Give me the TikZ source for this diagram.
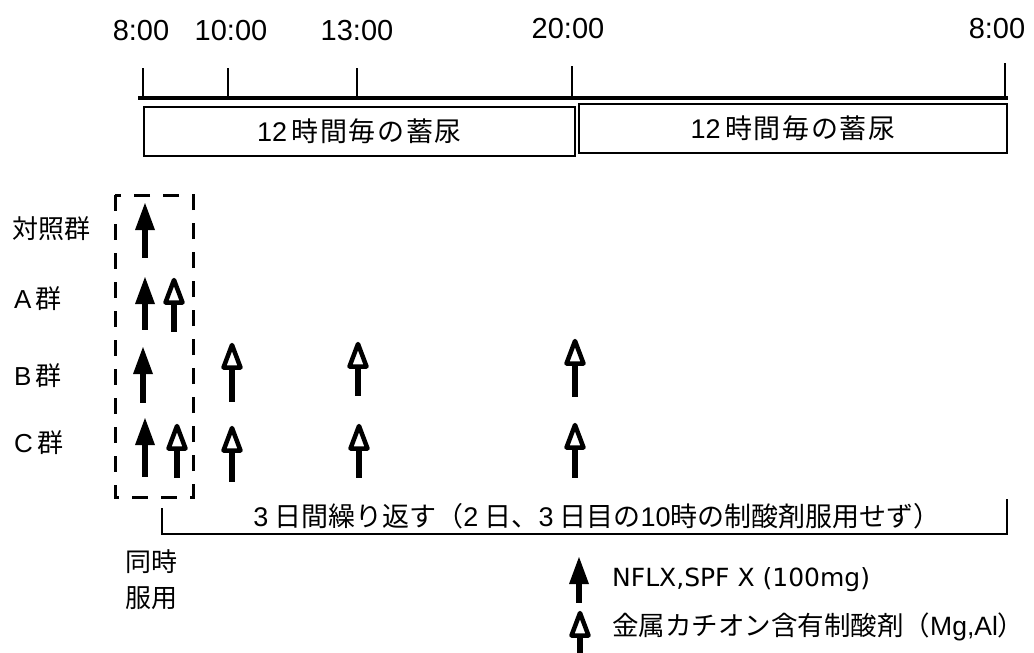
\documentclass[tikz,border=0pt]{standalone}
\usepackage{fontspec}
\setmainfont{Noto Sans CJK JP}
\newfontfamily\latfont{DejaVu Sans}
\newfontfamily\digfont{Liberation Sans}
\newfontfamily\jpspaced[LetterSpace=6]{Noto Sans CJK JP}
\newcommand\dg[1]{{\digfont #1}}
\newcommand\farr[3]{%
  \fill (#1,#2) -- (#1+10,#2+27) -- (#1-10,#2+27) -- cycle;
  \draw[line width=5.5] (#1,#2+22) -- (#1,#3);}
\newcommand\oarr[3]{%
  \draw[line width=5.5] (#1,#2+24) -- (#1,#3);
  \draw[line width=4.5, line join=round, fill=white] (#1,#2+3) -- (#1+8.5,#2+25.5) -- (#1-8.5,#2+25.5) -- cycle;}
\begin{document}
\begin{tikzpicture}[x=1pt,y=-1pt,
  every node/.style={inner sep=0pt, font=\fontsize{26}{30}\selectfont},
  timelbl/.style={font=\fontsize{29}{33}\digfont},
  tick/.style={line width=2.5},
  axis/.style={line width=4},
  period/.style={draw, line width=2, minimum height=49, font=\fontsize{27}{31}\jpspaced},
  dashbox/.style={line width=3, dash pattern=on 16pt off 13pt},
  bracket/.style={line width=2.5}]
\useasboundingbox (0,0) rectangle (1034,653);
% time labels
\node[timelbl] (t1) at (141,31) {8:00};
\node[timelbl] (t2) at (231,31) {10:00};
\node[timelbl] (t3) at (357,31) {13:00};
\node[timelbl] (t4) at (568,29) {20:00};
\node[timelbl] (t5) at (997,29) {8:00};
% ticks and axis
\draw[tick] (143,68) -- (143,98);
\draw[tick] (228,68) -- (228,98);
\draw[tick] (357,68) -- (357,98);
\draw[tick] (572,66) -- (572,98);
\draw[tick] (1005,63) -- (1005,98);
\draw[axis] (138,98) -- (1008,98);
% collection boxes
\node[period, minimum width=431] (b1) at (359.5,131) {\dg{12}\,時間毎の蓄尿};
\node[period, minimum width=428] (b2) at (793,128) {\dg{12}\,時間毎の蓄尿};
% group labels
\node[anchor=west] (g0) at (12,229) {対照群};
\node[anchor=west] (g1) at (14,299) {\dg{A}\,群};
\node[anchor=west] (g2) at (14,376) {\dg{B}\,群};
\node[anchor=west] (g3) at (14,443) {\dg{C}\,群};
% dashed box
\draw[dashbox] (115,195) rectangle (193,497);
% arrows
\farr{145}{203}{258}
\farr{145}{277}{330}
\oarr{174}{277}{332}
\farr{143}{347}{403}
\oarr{232}{342}{402}
\oarr{358}{341}{396}
\oarr{575}{338}{397}
\farr{145}{418}{477}
\oarr{177}{423}{478}
\oarr{232}{425}{482}
\oarr{359}{423}{478}
\oarr{575}{422}{478}
% repeat bracket
\draw[bracket] (162,508) -- (162,534) -- (1007,534) -- (1007,499);
\node[font=\fontsize{27}{31}\selectfont] (rep) at (597,516) {\dg{3} 日間繰り返す（\dg{2} 日、\dg{3} 日目の\dg{10}時の制酸剤服用せず）};
\node (s1) at (151,562) {同時};
\node (s2) at (151,598) {服用};
% legend
\farr{579}{557}{603}
\node[anchor=west, font=\fontsize{25}{29}\latfont] (l1) at (612,580) {NFLX,SPF X (100mg)};
\oarr{580}{610}{653}
\node[anchor=west, font=\fontsize{26.5}{30}\selectfont] (l2) at (612,627) {金属カチオン含有制酸剤（\dg{Mg,Al}）};
\end{tikzpicture}
\end{document}
